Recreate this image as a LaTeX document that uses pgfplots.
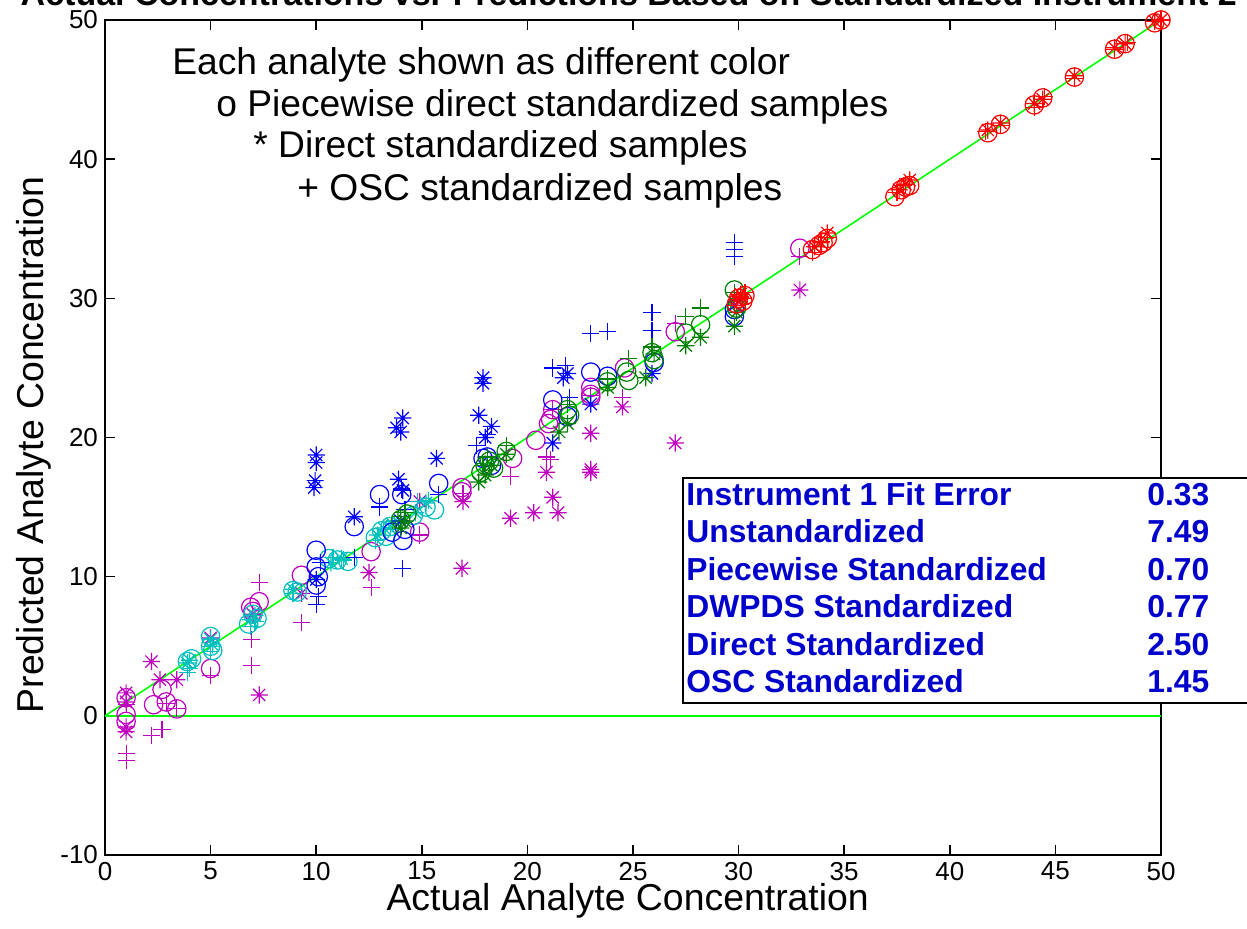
\documentclass[border=0pt]{standalone}
\usepackage{pgfplots}
\pgfplotsset{compat=1.18}
\usepackage{fontspec}
\setmainfont{Liberation Sans}
\definecolor{cmag}{RGB}{191,0,191}
\definecolor{ccyan}{RGB}{0,191,191}
\definecolor{cblue}{RGB}{0,0,255}
\definecolor{cgreen}{RGB}{0,128,0}
\definecolor{cred}{RGB}{255,0,0}
\definecolor{clime}{RGB}{0,255,0}
\definecolor{boxblue}{RGB}{0,0,204}
\pgfdeclareplotmark{mstar}{%
 \pgfpathmoveto{\pgfqpoint{-\pgfplotmarksize}{0pt}}\pgfpathlineto{\pgfqpoint{\pgfplotmarksize}{0pt}}%
 \pgfpathmoveto{\pgfqpoint{0pt}{-\pgfplotmarksize}}\pgfpathlineto{\pgfqpoint{0pt}{\pgfplotmarksize}}%
 \pgfpathmoveto{\pgfqpoint{-0.707\pgfplotmarksize}{-0.707\pgfplotmarksize}}\pgfpathlineto{\pgfqpoint{0.707\pgfplotmarksize}{0.707\pgfplotmarksize}}%
 \pgfpathmoveto{\pgfqpoint{-0.707\pgfplotmarksize}{0.707\pgfplotmarksize}}\pgfpathlineto{\pgfqpoint{0.707\pgfplotmarksize}{-0.707\pgfplotmarksize}}%
 \pgfusepathqstroke}
\pgfplotsset{
 mo/.style={only marks, mark=o, mark size=4.6pt, line width=0.6pt},
 ms/.style={only marks, mark=mstar, mark size=4.3pt, line width=0.6pt},
 mp/.style={only marks, mark=+, mark size=4.3pt, line width=0.6pt},
}
\begin{document}
\begin{tikzpicture}
\path[use as bounding box] (-52.5pt,-36.5pt) rectangle (571pt,427.5pt);
\clip (-52.5pt,-36.5pt) rectangle (571pt,427.5pt);
\begin{axis}[
 at={(0,0)}, anchor=south west,
 scale only axis, width=528pt, height=417.5pt,
 xmin=0, xmax=50, ymin=-10, ymax=50,
 xtick={0,5,...,50}, ytick={-10,0,...,50},
 tick align=inside, major tick length=5pt,
 axis line style={line width=1pt},
 every tick/.style={black, line width=0.8pt},
 clip=false,
 /pgf/number format/assume math mode=true,
 ticklabel style={font=\fontsize{13}{15}\selectfont},
 xticklabel style={yshift=0pt},
 title={\textbf{Actual Concentrations vs. Predictions Based on Standardized Instrument 2}},
 title style={at={(axis description cs:0.496,1.0035)}, anchor=base, font=\fontsize{17}{20}\selectfont},
 xlabel={Actual Analyte Concentration},
 xlabel style={at={(axis description cs:0.495,-0.067)}, anchor=base, font=\fontsize{18.7}{22}\selectfont},
 ylabel={Predicted Analyte Concentration},
 ylabel style={at={(axis description cs:-0.0578,0.491)}, anchor=base, rotate=0, font=\fontsize{18.7}{22}\selectfont},
]
\addplot[clime, line width=0.8pt] coordinates {(0,0) (50,50)};
\addplot[clime, line width=0.8pt] coordinates {(0,0) (50,0)};
% magenta
\addplot[mo, color=cmag] coordinates {(1.0,1.3)(1.0,0.1)(1.0,-0.4)(2.3,0.8)(2.7,1.9)(2.9,1.0)(3.4,0.5)(5.0,3.4)(6.9,7.8)(7.3,8.2)(7.0,7.5)(9.3,10.1)(12.6,11.8)(14.9,13.2)(16.9,16.1)(16.9,16.4)(19.3,18.5)(20.4,19.8)(21.0,21.0)(21.1,21.3)(21.2,22.0)(23.0,23.6)(23.0,23.1)(23.0,22.9)(24.6,25.0)(27.0,27.6)(32.9,33.6)};
\addplot[ms, color=cmag] coordinates {(1.0,1.65)(1.0,-1.15)(1.0,-0.8)(1.0,1.0)(2.2,3.9)(2.6,2.6)(3.4,2.6)(5.0,5.6)(7.3,1.5)(7.0,7.3)(9.3,8.8)(12.5,10.3)(14.9,15.4)(16.9,10.6)(16.95,15.4)(19.2,14.2)(20.3,14.6)(20.9,17.5)(21.2,15.7)(21.45,14.6)(23.0,20.3)(23.0,17.7)(23.0,17.5)(24.5,22.2)(27.0,19.6)(32.9,30.6)};
\addplot[mp, color=cmag] coordinates {(1.0,0.8)(1.0,-2.7)(1.0,-3.2)(2.2,-1.4)(2.7,-1.0)(2.9,0.9)(3.4,0.5)(5.0,2.9)(7.3,9.6)(6.95,5.5)(6.95,3.6)(9.3,6.7)(12.6,9.2)(14.9,13.0)(16.95,16.0)(19.2,17.2)(20.9,18.6)(21.1,18.4)(21.2,22.0)(23.0,23.0)(24.5,22.9)(27.0,28.2)(32.9,33.0)};
% cyan
\addplot[mo, color=ccyan] coordinates {(3.9,3.9)(4.1,4.1)(5.0,5.7)(5.0,5.0)(5.1,4.7)(6.8,6.6)(7.0,7.3)(7.2,7.0)(8.9,9.0)(9.1,8.9)(10.6,11.3)(11.0,11.2)(11.5,11.1)(12.8,12.8)(13.1,13.3)(13.5,13.6)(13.3,12.9)(14.6,14.4)(15.2,15.0)(15.6,14.8)};
\addplot[ms, color=ccyan] coordinates {(3.9,3.8)(4.0,4.0)(5.0,5.5)(5.1,5.1)(6.9,6.9)(7.1,7.2)(8.9,9.1)(10.7,11.0)(11.2,11.3)(12.9,13.0)(13.2,13.5)(13.6,13.8)(14.7,14.6)(15.2,15.3)};
\addplot[mp, color=ccyan] coordinates {(3.9,3.1)(4.0,3.4)(5.0,5.0)(5.0,4.6)(6.9,6.4)(7.1,6.8)(8.9,8.8)(10.8,11.4)(11.3,11.2)(12.8,12.6)(13.3,13.4)(13.7,14.0)(14.8,15.4)(15.3,15.5)};
% blue
\addplot[mo, color=cblue] coordinates {(10.0,11.9)(10.0,10.7)(10.0,9.4)(10.1,10.0)(11.8,13.6)(13.0,15.9)(13.6,13.2)(14.05,15.9)(14.1,12.6)(14.2,13.4)(15.8,16.7)(17.9,18.5)(18.1,18.6)(18.3,18.0)(21.2,22.7)(21.9,21.5)(23.0,24.7)(23.8,24.4)(26.0,25.4)(29.8,28.7)(29.8,29.2)};
\addplot[ms, color=cblue] coordinates {(10.0,18.75)(10.0,18.2)(9.95,16.9)(9.9,16.4)(10.0,9.8)(11.8,14.3)(13.9,17.0)(14.1,16.2)(14.1,21.4)(13.8,20.7)(14.0,20.4)(14.0,14.0)(15.7,18.5)(17.9,24.3)(17.9,23.9)(17.7,21.6)(18.3,20.8)(18.0,20.0)(21.2,19.6)(21.7,24.3)(21.9,24.6)(23.0,22.4)(25.9,24.6)(29.8,29.5)};
\addplot[mp, color=cblue] coordinates {(10.0,8.0)(10.1,8.6)(10.2,11.0)(11.8,11.4)(13.0,15.0)(14.05,16.3)(14.1,10.6)(14.2,14.8)(15.8,15.9)(17.6,19.4)(18.1,20.2)(21.2,25.0)(21.8,25.2)(22.0,22.9)(23.0,27.5)(23.8,27.6)(25.9,29.0)(25.9,27.7)(29.8,34.0)(29.8,33.5)(29.8,33.0)};
% green
\addplot[mo, color=cgreen] coordinates {(14.0,14.1)(14.3,14.5)(17.8,17.5)(18.0,18.0)(18.2,18.3)(18.4,17.8)(19.0,19.0)(21.9,22.0)(22.0,21.6)(23.8,24.0)(24.7,24.7)(24.8,24.1)(25.9,26.1)(26.0,25.6)(27.5,27.5)(28.2,28.1)(29.8,30.6)(29.9,29.3)};
\addplot[ms, color=cgreen] coordinates {(14.0,13.5)(14.2,14.0)(17.7,16.8)(18.0,17.3)(18.3,18.0)(19.0,18.8)(21.5,20.4)(21.9,21.0)(23.8,23.6)(25.6,24.3)(26.0,26.0)(27.5,26.6)(28.2,27.2)(29.8,28.0)(29.9,29.0)};
\addplot[mp, color=cgreen] coordinates {(14.0,14.3)(14.2,14.6)(17.9,18.0)(18.1,18.6)(19.0,19.4)(21.9,22.4)(23.8,24.2)(24.8,25.7)(25.9,26.5)(27.5,28.7)(28.2,29.3)(29.8,30.4)(29.9,29.8)};
% red
\addplot[mo, color=cred] coordinates {(29.9,29.6)(30.0,30.0)(30.2,29.8)(30.3,30.2)(33.5,33.5)(33.8,33.8)(34.0,34.0)(34.2,34.3)(37.4,37.3)(37.7,37.8)(37.9,38.0)(38.1,38.1)(41.8,41.9)(42.4,42.5)(44.0,43.9)(44.4,44.4)(45.9,45.9)(47.8,47.9)(48.3,48.3)(49.7,49.8)(50.0,50.0)};
\addplot[ms, color=cred] coordinates {(29.9,29.9)(30.1,30.3)(30.2,30.0)(33.6,33.7)(33.9,34.0)(34.2,34.7)(37.6,37.8)(37.9,38.2)(38.1,38.5)(41.8,42.1)(42.4,42.6)(44.0,44.0)(44.4,44.3)(45.9,46.0)(47.8,48.0)(48.3,48.3)(49.7,49.9)(50.0,50.0)};
\addplot[mp, color=cred] coordinates {(29.8,29.5)(30.1,30.1)(30.3,30.4)(33.5,33.3)(33.9,34.1)(34.2,34.4)(37.5,37.6)(37.8,38.1)(41.7,42.0)(42.4,42.4)(44.0,43.7)(44.5,44.5)(45.9,45.8)(47.8,47.9)(48.4,48.4)(49.7,49.9)(50.0,50.0)};
\end{axis}
\begin{scope}[every node/.style={inner sep=0pt, font=\fontsize{18.6}{22}\selectfont}]
\node[anchor=base west] at (33.5pt,390pt) {Each analyte shown as different color};
\node[anchor=base west] at (55.5pt,369pt) {o Piecewise direct standardized samples};
\node[anchor=base west] at (74pt,348.5pt) {* Direct standardized samples};
\node[anchor=base west] at (96pt,327pt) {+ OSC standardized samples};
\end{scope}
\draw[fill=white, line width=0.6pt] (289pt,76pt) rectangle (590pt,188.5pt);
\begin{scope}[every node/.style={inner sep=0pt, anchor=base west, text=boxblue, font=\fontsize{15.9}{18}\selectfont\bfseries}]
\node at (290.5pt,175pt) {Instrument 1 Fit Error};
\node at (290.5pt,156.5pt) {Unstandardized};
\node at (290.5pt,137.5pt) {Piecewise Standardized};
\node at (290.5pt,119pt) {DWPDS Standardized};
\node at (290.5pt,100pt) {Direct Standardized};
\node at (290.5pt,81.5pt) {OSC Standardized};
\node at (521pt,175pt) {0.33};
\node at (521pt,156.5pt) {7.49};
\node at (521pt,137.5pt) {0.70};
\node at (521pt,119pt) {0.77};
\node at (521pt,100pt) {2.50};
\node at (521pt,81.5pt) {1.45};
\end{scope}
\end{tikzpicture}
\end{document}
